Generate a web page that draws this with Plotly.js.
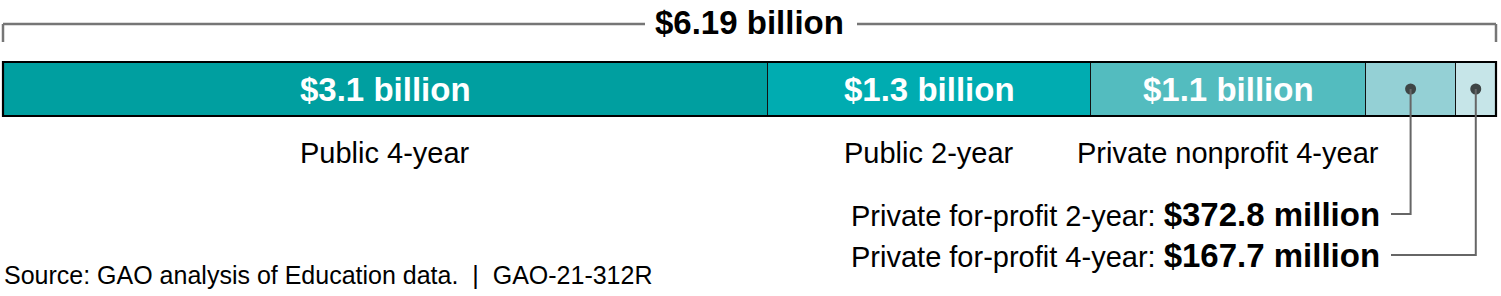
<!DOCTYPE html>
<html>
<head>
<meta charset="utf-8">
<script src="https://cdn.plot.ly/plotly-3.0.1.min.js"></script>
<style>html,body{margin:0;padding:0;background:#fff;}#chart{width:1501px;height:296px;}</style>
</head>
<body>
<div id="chart"></div>
<script>
// ---- data (billions of dollars) ----
const categories = ['Public 4-year', 'Public 2-year', 'Private nonprofit 4-year', 'Private for-profit 2-year', 'Private for-profit 4-year'];
const values = [3.17, 1.34, 1.14, 0.3728, 0.1677];
const valueLabels = ['$3.1 billion', '$1.3 billion', '$1.1 billion', '$372.8 million', '$167.7 million'];
const colors = ['#009fa0', '#00acb1', '#53bcbf', '#94d0d5', '#c6e5e8'];
const totalLabel = '$6.19 billion';
const sourceText = 'Source: GAO analysis of Education data.  |  GAO-21-312R';

// ---- layout helpers ----
const total = values.reduce((a, b) => a + b, 0);
const W = 1501, H = 296, barL = 3, barR = 1496;
const scale = (barR - barL) / total;              // px per billion
const xd = px => (px - barL) / scale;             // pixel -> data x
const barY = 89, barH = 54;
const FONT = 'Liberation Sans, Arial, sans-serif';

const starts = [];
values.reduce((acc, v) => { starts.push(acc); return acc + v; }, 0);
const mids = values.map((v, i) => starts[i] + v / 2);

const traces = categories.map((c, i) => ({
  type: 'bar', orientation: 'h', name: c,
  x: [values[i]], y: [barY], width: [barH],
  marker: { color: colors[i], line: { color: '#111111', width: 1.3 } },
  hoverinfo: 'skip', showlegend: false
}));

// dots for the small segments
traces.push({
  type: 'scatter', mode: 'markers',
  x: [mids[3], mids[4]], y: [barY, barY],
  marker: { color: '#3e4545', size: 11 },
  hoverinfo: 'skip', showlegend: false
});

const annotations = [];
// inside labels and category labels for the first three segments
for (let i = 0; i < 3; i++) {
  annotations.push({
    x: mids[i], y: barY, xref: 'x', yref: 'y', text: valueLabels[i], showarrow: false,
    xanchor: 'center', yanchor: 'middle',
    font: { family: FONT, size: 33, color: '#ffffff', weight: 'bold' }
  });
  annotations.push({
    x: mids[i], y: 153, xref: 'x', yref: 'y', text: categories[i], showarrow: false,
    xanchor: 'center', yanchor: 'middle',
    font: { family: FONT, size: 29, color: '#000000' }
  });
}
// callout labels
const calloutY = [214, 255];
const calloutTextX = xd(1382);
const calloutLineX = xd(1391);
for (let k = 0; k < 2; k++) {
  const i = 3 + k;
  annotations.push({
    x: calloutTextX, y: calloutY[k], xref: 'x', yref: 'y',
    text: categories[i] + ': <b><span style="font-size:33px">' + valueLabels[i] + '</span></b>',
    showarrow: false, xanchor: 'right', yanchor: 'middle',
    font: { family: FONT, size: 29, color: '#000000' }
  });
}
// total label
annotations.push({
  x: total / 2, y: 22, xref: 'x', yref: 'y', text: '<b>' + totalLabel + '</b>', showarrow: false,
  xanchor: 'center', yanchor: 'middle',
  font: { family: FONT, size: 33, color: '#000000' }
});
// source
annotations.push({
  x: xd(2), y: 275, xref: 'x', yref: 'y', text: sourceText, showarrow: false,
  xanchor: 'left', yanchor: 'middle',
  font: { family: FONT, size: 25, color: '#000000' }
});

const bracketColor = '#767676';
const shapes = [
  { type: 'line', x0: 0, x1: 0, y0: 42, y1: 24, line: { color: bracketColor, width: 2.5 } },
  { type: 'line', x0: 0, x1: xd(645), y0: 24, y1: 24, line: { color: bracketColor, width: 2.5 } },
  { type: 'line', x0: xd(857), x1: total, y0: 24, y1: 24, line: { color: bracketColor, width: 2.5 } },
  { type: 'line', x0: total, x1: total, y0: 24, y1: 42, line: { color: bracketColor, width: 2.5 } },
  // heavier outer border of the bar
  { type: 'rect', x0: 0, x1: total, y0: barY - barH / 2, y1: barY + barH / 2,
    line: { color: '#000000', width: 2.2 }, fillcolor: 'rgba(0,0,0,0)' }
];
for (let k = 0; k < 2; k++) {
  const m = mids[3 + k];
  shapes.push({
    type: 'path', xref: 'x', yref: 'y',
    path: `M ${m} ${barY} L ${m} ${calloutY[k]} L ${calloutLineX} ${calloutY[k]}`,
    line: { color: '#666666', width: 2 }
  });
}

const layout = {
  width: W, height: H,
  margin: { l: 0, r: 0, t: 0, b: 0, pad: 0 },
  paper_bgcolor: '#ffffff', plot_bgcolor: '#ffffff',
  barmode: 'stack', bargap: 0,
  xaxis: { range: [xd(0), xd(W)], visible: false, fixedrange: true },
  yaxis: { range: [H, 0], visible: false, fixedrange: true },
  annotations: annotations, shapes: shapes,
  font: { family: FONT }
};

Plotly.newPlot('chart', traces, layout, { displayModeBar: false, staticPlot: true });
</script>
</body>
</html>
